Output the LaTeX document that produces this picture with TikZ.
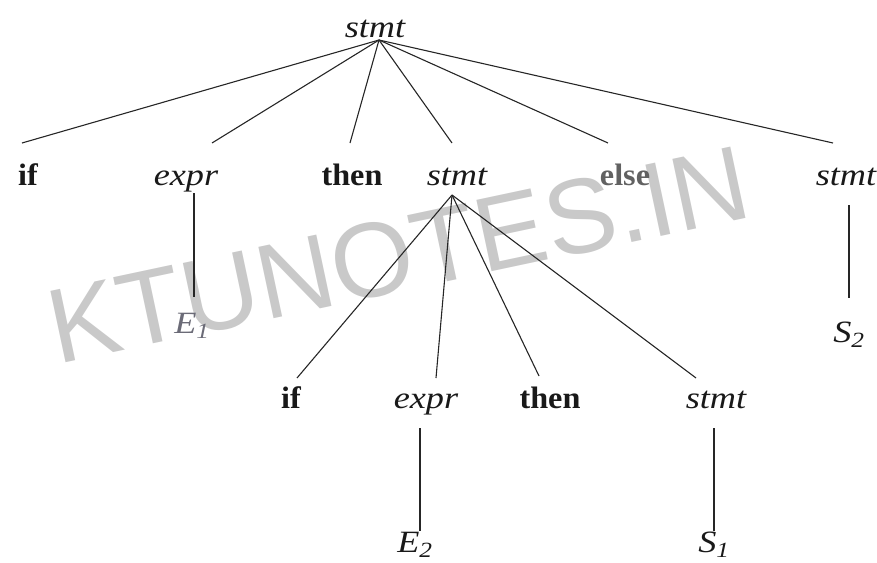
\documentclass[tikz,border=0pt]{standalone}
\usepackage{fontspec}
\setmainfont{Liberation Serif}
\newfontfamily\itf{Liberation Serif}[FakeStretch=1.17]
\newfontfamily\bff{Liberation Serif}[FakeStretch=1.04]
\newfontfamily\wmfont{Liberation Sans}
\begin{document}
\begin{tikzpicture}[x=1pt,y=-1pt,
  lbl/.style={inner sep=0pt, anchor=base, text=black!90},
  itl/.style={lbl, font=\itf\fontsize{31}{36}\selectfont\itshape},
  bfl/.style={lbl, font=\bff\fontsize{31}{36}\selectfont\bfseries},
  dim/.style={text=black!62},
  edge/.style={draw=black!85, line width=1.1pt},
  wm/.style={inner sep=0pt, anchor=base west, rotate=12, text=gray!42,
    font=\wmfont\fontsize{106}{112}\selectfont}]
\useasboundingbox (0,0) rectangle (877,562);
% watermark
\node[wm] (wm) at (57.5,364.5) {KTUNOTES.IN};
% root
\node[itl] (s0) at (375,37) {stmt};
\coordinate (s0b) at (379,40);
% level 1
\node[bfl] (if1) at (28,185) {if};
\node[itl] (ex1) at (186,185) {expr};
\node[bfl] (th1) at (352,185) {then};
\node[itl] (s1) at (457,185) {stmt};
\node[bfl,dim] (el1) at (625,185) {else};
\node[itl] (s2) at (846,185) {stmt};
\coordinate (if1t) at (22,143);
\coordinate (ex1t) at (212,143);
\coordinate (th1t) at (350,143);
\coordinate (s1t) at (452,143);
\coordinate (el1t) at (608,143);
\coordinate (s2t) at (833,143);
\foreach \c in {if1t,ex1t,th1t,s1t,el1t,s2t} \draw[edge] (s0b) -- (\c);
% E1 and S2
\node[itl,text=blue!8!black!58] (e1) at (192,333) {E\textsubscript{1}};
\coordinate (ex1b) at (194,193);
\coordinate (e1t) at (194,297);
\draw[edge] (ex1b) -- (e1t);
\node[itl] (sb2) at (849,342) {S\textsubscript{2}};
\coordinate (s2b) at (849,205);
\coordinate (sb2t) at (849,298);
\draw[edge] (s2b) -- (sb2t);
% level 2
\coordinate (s1b) at (452,195);
\node[bfl] (if2) at (291,408) {if};
\node[itl] (ex2) at (426,408) {expr};
\node[bfl] (th2) at (550,408) {then};
\node[itl] (s3) at (716,408) {stmt};
\coordinate (if2t) at (297,378);
\coordinate (ex2t) at (436,378);
\coordinate (th2t) at (539,376);
\coordinate (s3t) at (696,378);
\foreach \c in {if2t,ex2t,th2t,s3t} \draw[edge] (s1b) -- (\c);
% E2 and S1
\node[itl] (e2) at (415,552) {E\textsubscript{2}};
\coordinate (ex2b) at (420,428);
\coordinate (e2t) at (420,531);
\draw[edge] (ex2b) -- (e2t);
\node[itl] (sb1) at (714,552) {S\textsubscript{1}};
\coordinate (s3b) at (714,428);
\coordinate (sb1t) at (714,531);
\draw[edge] (s3b) -- (sb1t);
\end{tikzpicture}
\end{document}
